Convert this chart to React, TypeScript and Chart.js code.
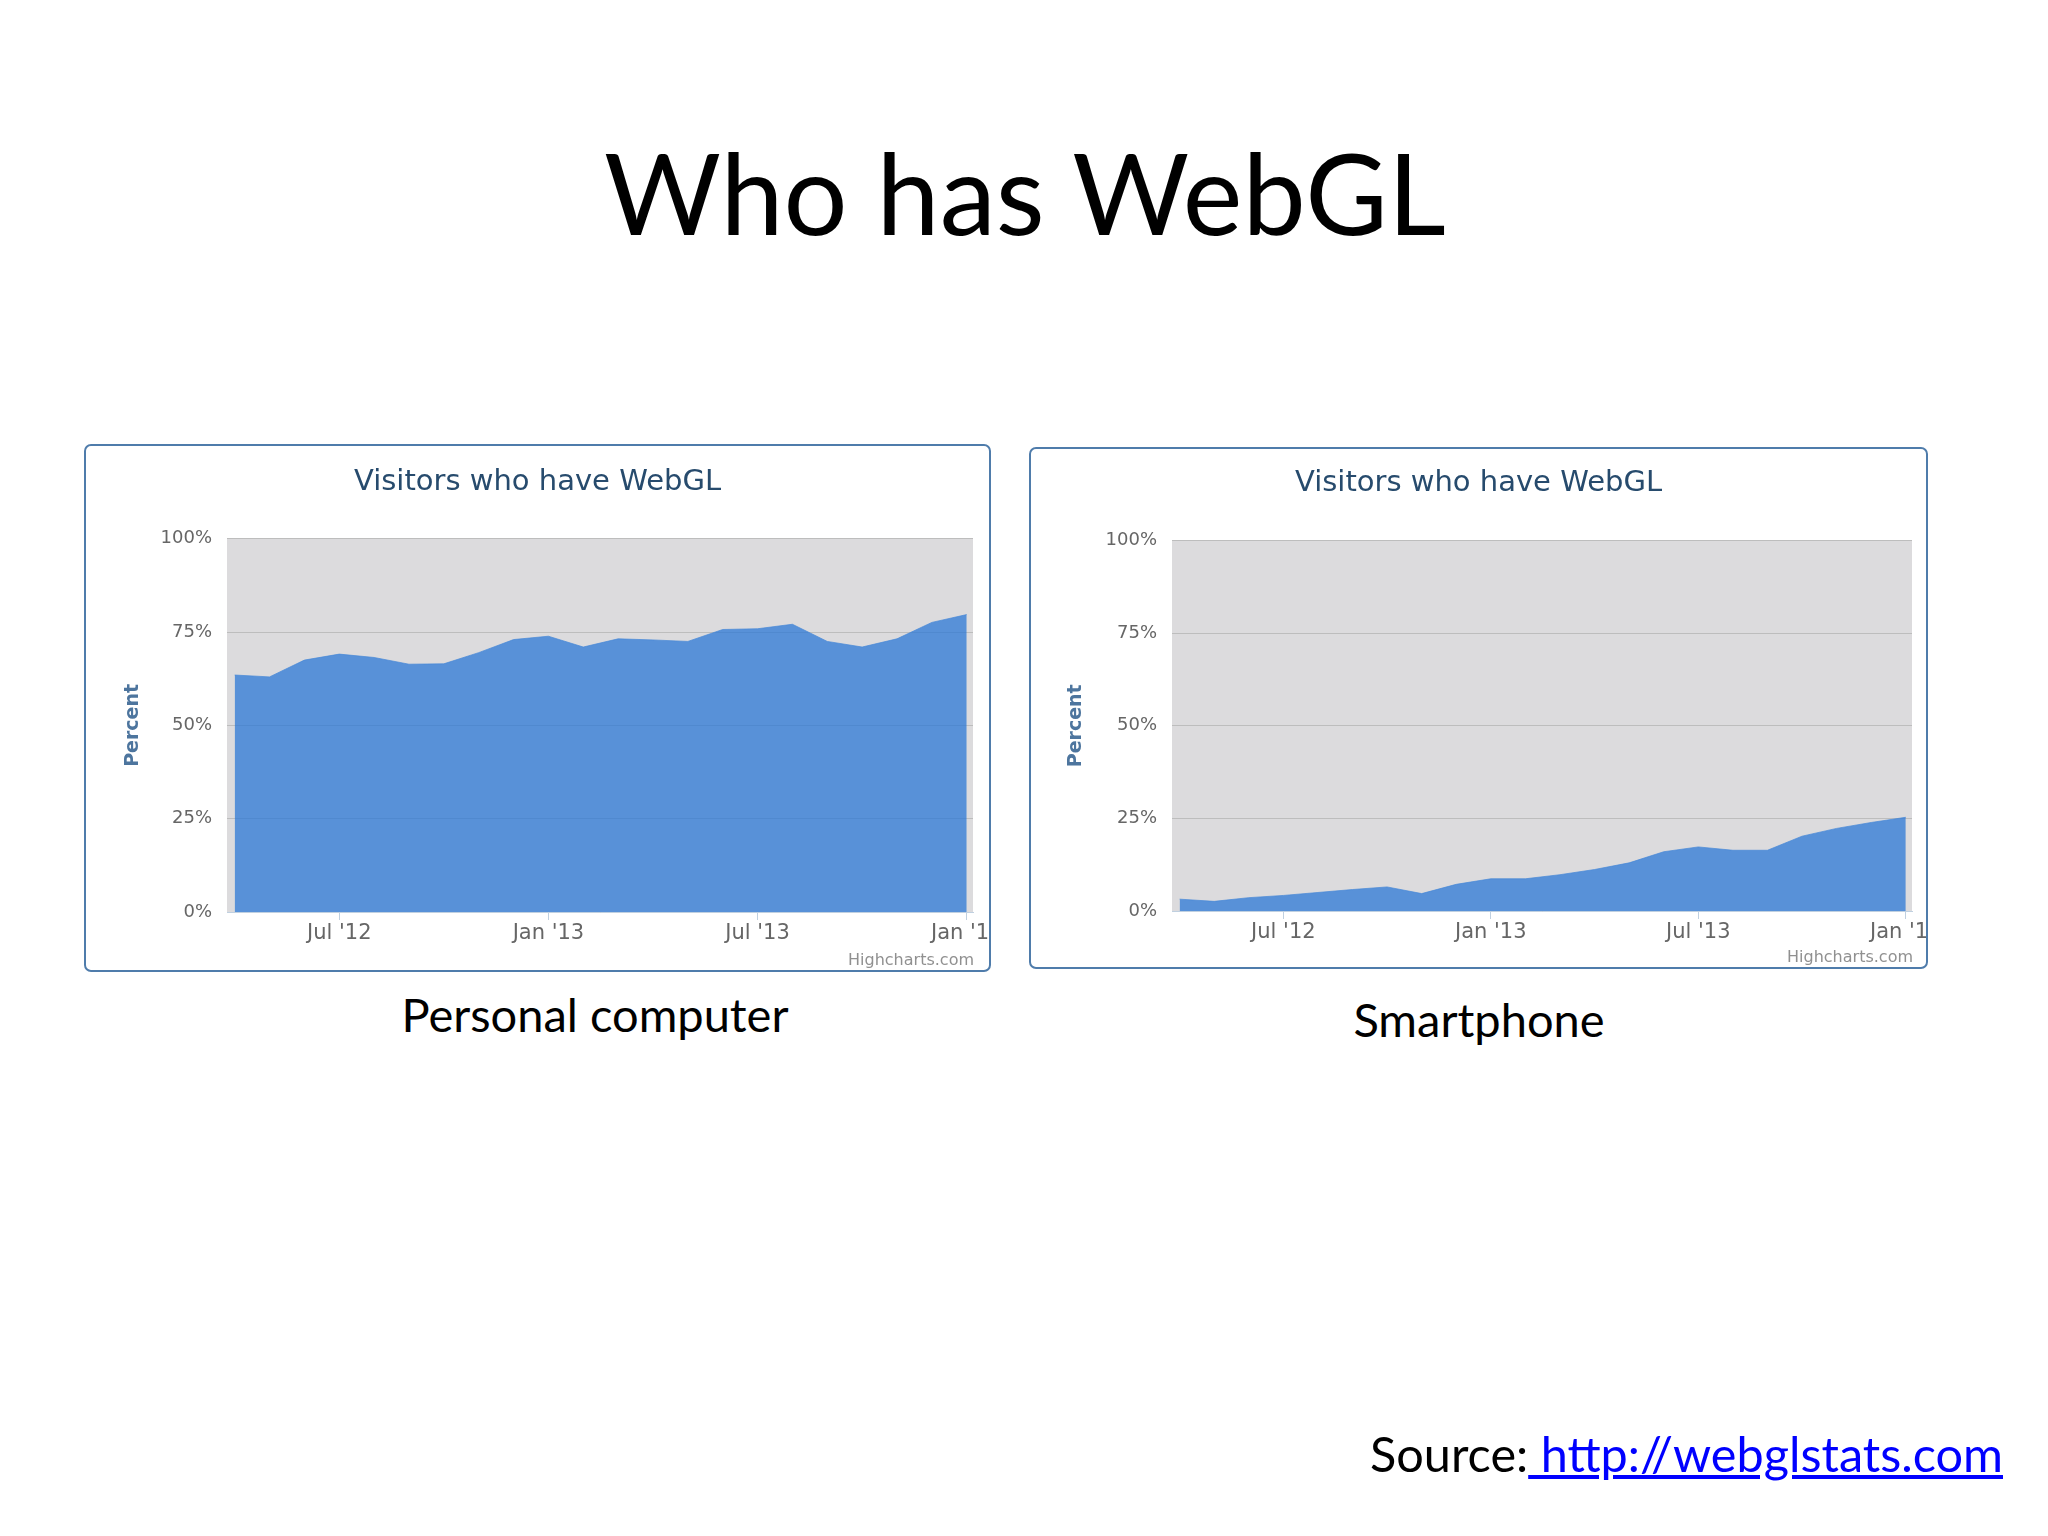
import React, { useEffect, useRef } from "react";
import { Chart, registerables } from "chart.js";

Chart.register(...registerables);

// ---------- data ----------
const months = [
  "2012-04", "2012-05", "2012-06", "2012-07", "2012-08", "2012-09", "2012-10", "2012-11",
  "2012-12", "2013-01", "2013-02", "2013-03", "2013-04", "2013-05", "2013-06", "2013-07",
  "2013-08", "2013-09", "2013-10", "2013-11", "2013-12", "2014-01",
];
const pcPercent = [
  63.5, 63.0, 67.5, 69.1, 68.2, 66.4, 66.5, 69.5, 73.0, 73.9, 71.0,
  73.2, 72.9, 72.5, 75.7, 75.9, 77.1, 72.5, 71.0, 73.2, 77.6, 79.7,
];
const phonePercent = [
  3.2, 2.6, 3.6, 4.2, 5.0, 5.8, 6.5, 4.7, 7.2, 8.7, 8.7,
  9.8, 11.2, 13.0, 16.0, 17.3, 16.4, 16.4, 20.2, 22.3, 23.9, 25.3,
];
const xTickMonths = ["2012-07", "2013-01", "2013-07", "2014-01"];
const xTickLabels = ["Jul '12", "Jan '13", "Jul '13", "Jan '14"];
const yTickValues = [0, 25, 50, 75, 100];
const chartTitle = "Visitors who have WebGL";
const yAxisTitle = "Percent";
const creditText = "Highcharts.com";
const slideTitle = "Who has WebGL";
const pcCaption = "Personal computer";
const phoneCaption = "Smartphone";
const sourceLabel = "Source:";
const sourceLink = " http://webglstats.com";

function monthIndex(s: string): number {
  const [y, m] = s.split("-").map(Number);
  return (y - 2012) * 12 + (m - 1);
}

const FONT = '"DejaVu Sans", Verdana, sans-serif';

const plotBgPlugin = {
  id: "plotBg",
  beforeDraw(chart: any) {
    const { ctx, chartArea } = chart;
    ctx.save();
    ctx.fillStyle = "#dcdbdd";
    ctx.fillRect(chartArea.left, chartArea.top, chartArea.right - chartArea.left, chartArea.bottom - chartArea.top);
    ctx.restore();
  },
};

const creditPlugin = {
  id: "credit",
  afterDraw(chart: any) {
    const { ctx, chartArea } = chart;
    ctx.save();
    ctx.font = `16px ${FONT}`;
    ctx.fillStyle = "#909090";
    ctx.textAlign = "right";
    ctx.textBaseline = "alphabetic";
    ctx.fillText(creditText, chartArea.right + 1, chart.height - 7);
    ctx.restore();
  },
};

type PanelProps = {
  values: number[];
  left: number;
  top: number;
  width: number;
  height: number;
  yAxisWidth: number;
  titleTop: number;
  titleBottom: number;
  padRight: number;
  xAxisHeight: number;
  yTitlePad: number;
};

function Panel(p: PanelProps) {
  const ref = useRef<HTMLCanvasElement | null>(null);
  useEffect(() => {
    if (!ref.current) return;
    const chart = new Chart(ref.current, {
      type: "line",
      data: {
        datasets: [
          {
            data: months.map((m, i) => ({ x: monthIndex(m), y: p.values[i] })),
            fill: "origin",
            backgroundColor: "rgba(44,120,214,0.75)",
            borderColor: "rgba(70,135,215,0.7)",
            borderWidth: 1,
            pointRadius: 0,
            tension: 0,
          },
        ],
      },
      options: {
        animation: false,
        responsive: false,
        devicePixelRatio: 1,
        events: [],
        layout: { padding: { top: 0, left: 0, right: 0, bottom: 0 } },
        plugins: {
          legend: { display: false },
          tooltip: { enabled: false },
          title: {
            display: true,
            text: chartTitle,
            color: "#274b6d",
            font: { family: FONT, size: 29, weight: "normal", lineHeight: 1.2 },
            padding: { top: p.titleTop, bottom: p.titleBottom },
          },
        },
        scales: {
          x: {
            type: "linear",
            min: 2.78,
            max: 24.18,
            afterBuildTicks: (s: any) => {
              s.ticks = xTickMonths.map((m) => ({ value: monthIndex(m) }));
            },
            afterFit: (s: any) => {
              s.height = p.xAxisHeight;
              s.paddingLeft = 0;
              s.paddingRight = p.padRight;
            },
            ticks: {
              autoSkip: false,
              maxRotation: 0,
              minRotation: 0,
              color: "#666666",
              padding: 1,
              font: { family: FONT, size: 21 },
              callback: (_v: any, i: number) => xTickLabels[i],
            },
            grid: { drawOnChartArea: false, drawTicks: true, tickLength: 8, color: "#c0d0e0" },
            border: { display: true, color: "#c0d0e0" },
          },
          y: {
            min: 0,
            max: 100,
            afterBuildTicks: (s: any) => {
              s.ticks = yTickValues.map((v) => ({ value: v }));
            },
            afterFit: (s: any) => {
              s.width = p.yAxisWidth;
            },
            ticks: {
              color: "#666666",
              padding: 15,
              font: { family: FONT, size: 18 },
              callback: (v: any) => `${v}%`,
            },
            grid: { color: "#bdbdbd", drawTicks: false, lineWidth: 1 },
            border: { display: false },
            title: {
              display: true,
              text: yAxisTitle,
              color: "#4d759e",
              font: { family: FONT, size: 19, weight: "bold", lineHeight: 1.2 },
              padding: { top: p.yTitlePad, bottom: 0 },
            },
          },
        },
      },
      plugins: [plotBgPlugin, creditPlugin],
    } as any);
    return () => chart.destroy();
  }, []);

  return (
    <div style={{ position: "absolute", left: p.left, top: p.top, width: p.width, height: p.height, background: "#fff" }}>
      <canvas
        ref={ref}
        width={p.width}
        height={p.height}
        style={{ position: "absolute", left: 0, top: 0, width: p.width, height: p.height }}
      />
      <div
        style={{
          position: "absolute",
          inset: 0,
          border: "2px solid #4f7cab",
          borderRadius: 7,
          boxSizing: "border-box",
          pointerEvents: "none",
        }}
      />
    </div>
  );
}

const SLIDE_FONT = 'Lato, "Open Sans", sans-serif';

export default function App() {
  return (
    <div
      style={{
        position: "fixed",
        left: 0,
        top: 0,
        width: 2048,
        height: 1536,
        background: "#ffffff",
        overflow: "hidden",
        fontFamily: SLIDE_FONT,
        color: "#000",
      }}
    >
      <div
        style={{
          position: "absolute",
          left: 425,
          width: 1200,
          top: 124,
          textAlign: "center",
          fontSize: 113,
          lineHeight: 1.2,
          whiteSpace: "nowrap",
        }}
      >
        {slideTitle}
      </div>

      <Panel
        values={pcPercent}
        left={84}
        top={444}
        width={907}
        height={528}
        yAxisWidth={143}
        titleTop={21.5}
        titleBottom={38.5}
        padRight={18}
        xAxisHeight={60}
        yTitlePad={37.6}
      />
      <Panel
        values={phonePercent}
        left={1029}
        top={447}
        width={899}
        height={522}
        yAxisWidth={143}
        titleTop={19}
        titleBottom={39.8}
        padRight={16}
        xAxisHeight={58}
        yTitlePad={35.6}
      />

      <div
        style={{
          position: "absolute",
          left: 295,
          width: 600,
          top: 986,
          textAlign: "center",
          fontSize: 47,
          lineHeight: 1.2,
          whiteSpace: "nowrap",
        }}
      >
        {pcCaption}
      </div>
      <div
        style={{
          position: "absolute",
          left: 1179,
          width: 600,
          top: 991,
          textAlign: "center",
          fontSize: 47,
          lineHeight: 1.2,
          whiteSpace: "nowrap",
        }}
      >
        {phoneCaption}
      </div>
      <div
        style={{
          position: "absolute",
          right: 45,
          top: 1424,
          fontSize: 48.6,
          lineHeight: 1.2,
          whiteSpace: "nowrap",
        }}
      >
        <span>{sourceLabel}</span>
        <span style={{ color: "#0000ff", textDecoration: "underline", whiteSpace: "pre" }}>{sourceLink}</span>
      </div>
    </div>
  );
}
